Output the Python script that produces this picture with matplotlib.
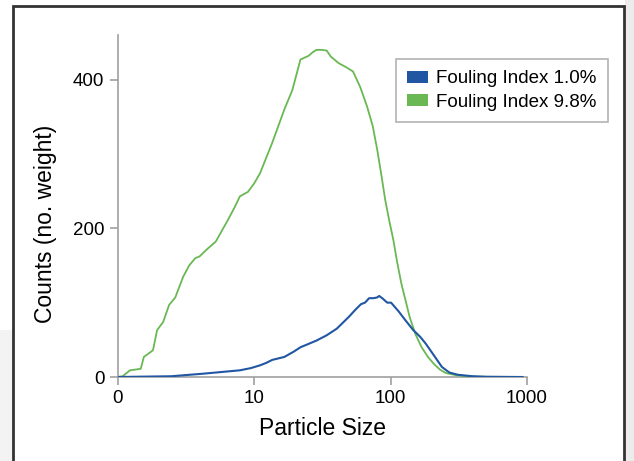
import numpy as np
import matplotlib.pyplot as plt
from matplotlib.patches import Patch, Rectangle

plt.rcParams['font.family'] = ['Liberation Sans', 'DejaVu Sans']

# particle size (log axis) and counts
size_low = [1.0, 2.47, 4.27, 7.88, 9.5, 11.07, 12.3, 13.6, 16.7, 19.5, 21.9, 28.7, 34.0,
            40.4, 49.6, 55.0, 60.8, 65.0, 69.7, 75.0, 79.9, 82.6, 87.0, 94.7, 101,
            115, 129, 147, 165, 181, 210, 238, 270, 312, 400, 502, 927]
counts_low = [0, 1, 4.5, 9, 12, 15.7, 19, 23, 27, 34, 40, 49, 56,
              65, 81, 90, 98, 100, 106, 106, 107, 109, 106, 100, 100,
              88, 76, 63, 54, 45, 28, 13.5, 6, 3, 1, 0.3, 0]

size_high = [1.0, 1.09, 1.235, 1.48, 1.56, 1.82, 1.95, 2.16, 2.39, 2.65, 3.03, 3.35, 3.72,
             3.98, 4.6, 5.24, 6.43, 7.2, 7.88, 9.03, 10.0, 11.07, 13.6, 16.7, 19.1, 21.9,
             25.1, 27.0, 28.7, 31.5, 34.1, 36.5, 41.8, 47.0, 53.1, 60.0, 67.3, 74.0, 79.9,
             86.0, 91.5, 98.0, 105, 112, 120, 138, 152, 169, 188, 207, 230, 254, 300,
             357, 500, 927]
counts_high = [0, 1, 9, 11, 27, 36, 63, 74, 97, 107, 135, 150, 160,
               162, 173, 182, 211, 228, 243, 249, 260, 274, 315, 360, 386, 427,
               432, 437, 440, 440, 439, 431, 422, 417, 411, 390, 364, 338, 306,
               270, 238, 210, 184, 154, 126, 81, 58, 40, 27, 18, 10, 5.4, 2.5,
               1, 0.3, 0]

labels = ['Fouling Index 1.0%', 'Fouling Index 9.8%']
colors = ['#2156a3', '#69b853']
xticks = [1, 10, 100, 1000]
xtick_labels = ['0', '10', '100', '1000']
yticks = [0, 200, 400]

fig = plt.figure(figsize=(6.34, 4.61), dpi=100)

# page background bits: gray shadow left/right, framed box
fig.patches.append(Rectangle((0, 0), 13 / 634, 1 - 330 / 461, transform=fig.transFigure,
                             facecolor='#f3f3f3', edgecolor='none', zorder=0))
fig.patches.append(Rectangle((625 / 634, 0), 9 / 634, 1, transform=fig.transFigure,
                             facecolor='#ececec', edgecolor='none', zorder=0))
fig.patches.append(Rectangle((13 / 634, -0.05), (623.5 - 13) / 634, 1.05 - 6.5 / 461,
                             transform=fig.transFigure, facecolor='white',
                             edgecolor='#333333', linewidth=2, zorder=1))

ax = fig.add_axes([117.5 / 634, 1 - 377 / 461, (527 - 117.5) / 634, (377 - 35) / 461])
ax.set_zorder(5)
ax.patch.set_alpha(0)

ax.plot(size_high, counts_high, color=colors[1], lw=1.3, zorder=3)
ax.plot(size_low, counts_low, color=colors[0], lw=1.5, zorder=4)

ax.set_xscale('log')
ax.set_xlim(1, 1000)
ax.set_ylim(0, 460)
ax.set_xticks(xticks)
ax.set_xticklabels(xtick_labels)
ax.xaxis.set_minor_locator(plt.NullLocator())
ax.set_yticks(yticks)

for side in ['top', 'right']:
    ax.spines[side].set_visible(False)
for side in ['left', 'bottom']:
    ax.spines[side].set_color('#a0a0a0')
    ax.spines[side].set_linewidth(1.2)
ax.tick_params(colors='#a0a0a0', labelcolor='black', labelsize=13.5, length=6, width=1.2)

ax.set_xlabel('Particle Size', fontsize=16.5, labelpad=7)
ax.set_ylabel('Counts (no. weight)', fontsize=16.5)
ax.yaxis.set_label_coords(-0.148, 0.447)

handles = [Patch(facecolor=c, edgecolor='none') for c in colors]
leg = ax.legend(handles, labels, loc='upper left', bbox_to_anchor=(0.68, 0.93),
                fontsize=13.5, frameon=True, fancybox=False, borderpad=0.6,
                handlelength=1.1, handleheight=0.6, handletextpad=0.45, labelspacing=0.35,
                borderaxespad=0)
leg.get_frame().set_edgecolor('#a0a0a0')
leg.get_frame().set_linewidth(1.2)

fig.savefig('out.png', dpi=100)
